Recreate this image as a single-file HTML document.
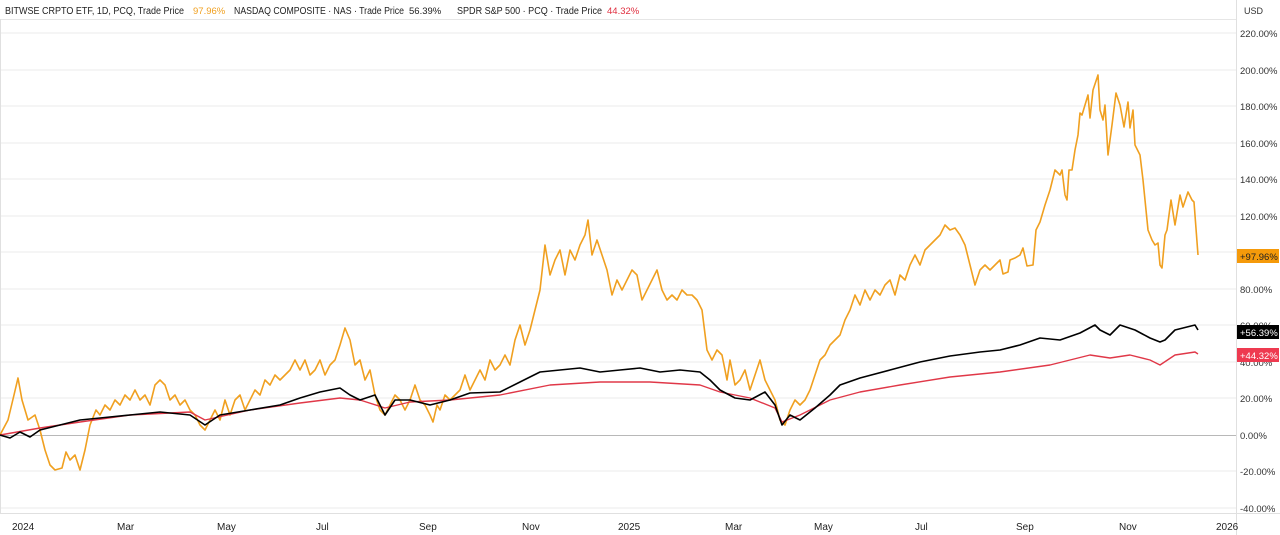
<!DOCTYPE html>
<html><head><meta charset="utf-8"><style>
body{margin:0;width:1280px;height:535px;background:#fff;overflow:hidden;font-family:"Liberation Sans",sans-serif}
svg{display:block}
</style></head><body>
<svg width="1280" height="535" viewBox="0 0 1280 535" xmlns="http://www.w3.org/2000/svg" font-family="Liberation Sans, sans-serif">
<rect width="1280" height="535" fill="#fff"/>
<line x1="0" y1="19.5" x2="1236" y2="19.5" stroke="#e6e6e6"/>
<g stroke="#ebebeb" stroke-width="1">
<line x1="0" y1="33" x2="1236" y2="33"/><line x1="0" y1="70" x2="1236" y2="70"/><line x1="0" y1="106" x2="1236" y2="106"/><line x1="0" y1="143" x2="1236" y2="143"/><line x1="0" y1="179" x2="1236" y2="179"/><line x1="0" y1="216" x2="1236" y2="216"/><line x1="0" y1="252" x2="1236" y2="252"/><line x1="0" y1="289" x2="1236" y2="289"/><line x1="0" y1="325" x2="1236" y2="325"/><line x1="0" y1="362" x2="1236" y2="362"/><line x1="0" y1="398" x2="1236" y2="398"/><line x1="0" y1="471" x2="1236" y2="471"/><line x1="0" y1="508" x2="1236" y2="508"/>
</g>
<line x1="0" y1="435.5" x2="1236" y2="435.5" stroke="#b8b8b8"/>
<line x1="0" y1="513.5" x2="1280" y2="513.5" stroke="#e0e0e0"/>
<line x1="1236.5" y1="0" x2="1236.5" y2="535" stroke="#e0e0e0"/>
<line x1="0.5" y1="19" x2="0.5" y2="513" stroke="#e0e0e0"/>
<g font-size="10" fill="#222">
<text x="5" y="14" textLength="179" lengthAdjust="spacingAndGlyphs">BITWSE CRPTO ETF, 1D, PCQ, Trade Price</text>
<text x="193" y="14" fill="#f0a020" font-size="9.5">97.96%</text>
<text x="234" y="14" textLength="170" lengthAdjust="spacingAndGlyphs">NASDAQ COMPOSITE · NAS · Trade Price</text>
<text x="409" y="14" font-size="9.5">56.39%</text>
<text x="457" y="14" textLength="145" lengthAdjust="spacingAndGlyphs">SPDR S&amp;P 500 · PCQ · Trade Price</text>
<text x="607" y="14" fill="#e03040" font-size="9.5">44.32%</text>
</g>
<text x="1244" y="14" font-size="9" fill="#333">USD</text>
<g font-size="9.5" fill="#333">
<text x="1240" y="37">220.00%</text><text x="1240" y="74">200.00%</text><text x="1240" y="110">180.00%</text><text x="1240" y="147">160.00%</text><text x="1240" y="183">140.00%</text><text x="1240" y="220">120.00%</text><text x="1240" y="293">80.00%</text><text x="1240" y="329">60.00%</text><text x="1240" y="366">40.00%</text><text x="1240" y="402">20.00%</text><text x="1240" y="439">0.00%</text><text x="1240" y="475">-20.00%</text><text x="1240" y="512">-40.00%</text>
</g>
<g font-size="10" fill="#222">
<text x="12" y="530">2024</text><text x="117" y="530">Mar</text><text x="217" y="530">May</text><text x="316" y="530">Jul</text><text x="419" y="530">Sep</text><text x="522" y="530">Nov</text><text x="618" y="530">2025</text><text x="725" y="530">Mar</text><text x="814" y="530">May</text><text x="915" y="530">Jul</text><text x="1016" y="530">Sep</text><text x="1119" y="530">Nov</text><text x="1216" y="530">2026</text>
</g>
<polyline fill="none" stroke="#f0a020" stroke-width="1.6" stroke-linejoin="round" points="0,435 8,420 14,395 18,378 22,400 28,420 35,415 40,430 45,450 50,465 55,470 62,468 66,452 70,460 75,455 80,470 85,450 90,425 96,410 100,415 105,405 110,410 115,400 120,405 125,395 130,400 135,390 140,400 145,395 150,405 155,385 160,380 165,385 170,400 175,395 180,405 185,400 190,410 195,415 200,425 205,430 210,420 215,410 220,420 225,400 230,415 235,400 240,395 245,410 250,400 255,390 260,395 265,380 270,385 275,375 280,380 290,370 295,360 300,370 305,360 310,375 315,370 320,360 325,375 330,365 335,360 340,345 345,328 350,340 355,365 360,360 365,380 370,370 375,395 380,410 385,415 390,405 395,395 400,400 405,410 410,400 415,385 420,400 425,405 430,415 433,422 437,405 440,410 445,395 450,400 455,395 460,390 465,375 470,390 475,380 480,370 485,380 490,360 495,370 500,365 505,355 510,365 515,340 520,325 525,345 530,330 535,310 540,290 545,245 550,275 555,260 560,250 565,275 570,250 575,260 580,245 585,235 588,220 592,255 597,240 602,255 607,270 612,295 617,280 622,290 627,280 632,270 637,275 642,300 647,290 652,280 657,270 662,290 667,300 672,295 677,300 682,290 687,295 692,295 697,300 702,310 707,350 712,360 717,350 722,355 727,380 730,360 735,385 740,380 745,370 750,390 755,375 760,360 765,380 770,390 775,400 780,420 785,425 790,410 795,400 800,405 805,400 810,390 815,375 820,360 825,355 830,345 835,340 840,335 845,320 850,310 855,295 860,305 865,290 870,300 875,290 880,295 885,285 890,280 895,295 900,275 905,280 910,265 915,255 920,265 925,250 930,245 935,240 940,235 945,225 950,230 955,228 960,235 965,245 970,265 975,285 980,270 985,265 990,270 995,265 1000,260 1003,274 1008,272 1010,260 1015,258 1020,255 1023,248 1027,266 1033,265 1036,230 1040,222 1045,205 1050,190 1055,170 1060,175 1062,170 1065,195 1067,200 1069,170 1072,170 1075,150 1078,135 1080,113 1082,115 1088,95 1090,118 1093,90 1098,75 1100,110 1103,120 1105,105 1108,155 1112,125 1116,93 1120,105 1124,127 1128,102 1130,128 1133,110 1135,145 1140,155 1143,180 1145,200 1148,230 1152,240 1155,245 1158,243 1160,265 1162,268 1165,235 1167,230 1171,200 1175,225 1180,195 1183,207 1188,192 1192,200 1194,202 1198,255"/>
<polyline fill="none" stroke="#e03848" stroke-width="1.4" stroke-linejoin="round" points="0,435 40,428 80,422 130,415 190,412 205,420 250,410 300,403 340,398 360,400 385,408 410,402 450,400 500,395 550,385 600,382 650,382 700,385 720,392 750,398 775,408 782,422 800,415 830,400 860,392 900,385 950,377 1000,372 1050,365 1090,355 1110,358 1130,355 1150,360 1160,365 1175,355 1195,352 1198,354"/>
<polyline fill="none" stroke="#000" stroke-width="1.6" stroke-linejoin="round" points="0,435 10,438 20,432 30,437 40,430 60,425 80,420 100,418 130,415 160,412 190,415 205,425 220,415 250,410 280,405 300,398 320,392 340,388 350,395 360,400 375,395 385,415 395,400 410,400 430,405 450,400 470,393 500,392 520,382 540,372 560,370 580,368 600,372 620,370 640,368 660,372 680,370 700,372 710,380 720,390 735,398 750,400 765,392 775,405 782,425 790,415 800,420 815,408 830,395 840,385 860,378 890,370 920,362 950,356 980,352 1000,350 1020,345 1040,338 1060,340 1080,333 1095,325 1100,330 1110,335 1120,325 1135,330 1150,338 1160,342 1165,340 1175,330 1195,325 1198,330"/>
<g font-size="9.5" fill="#fff">
<rect x="1237" y="249" width="42" height="14" fill="#f59a0a"/><text x="1240" y="260" fill="#222">+97.96%</text>
<rect x="1237" y="325" width="42" height="14" fill="#000"/><text x="1240" y="336">+56.39%</text>
<rect x="1237" y="348" width="42" height="14" fill="#ee3a50"/><text x="1240" y="359">+44.32%</text>
</g>
</svg>
</body></html>
